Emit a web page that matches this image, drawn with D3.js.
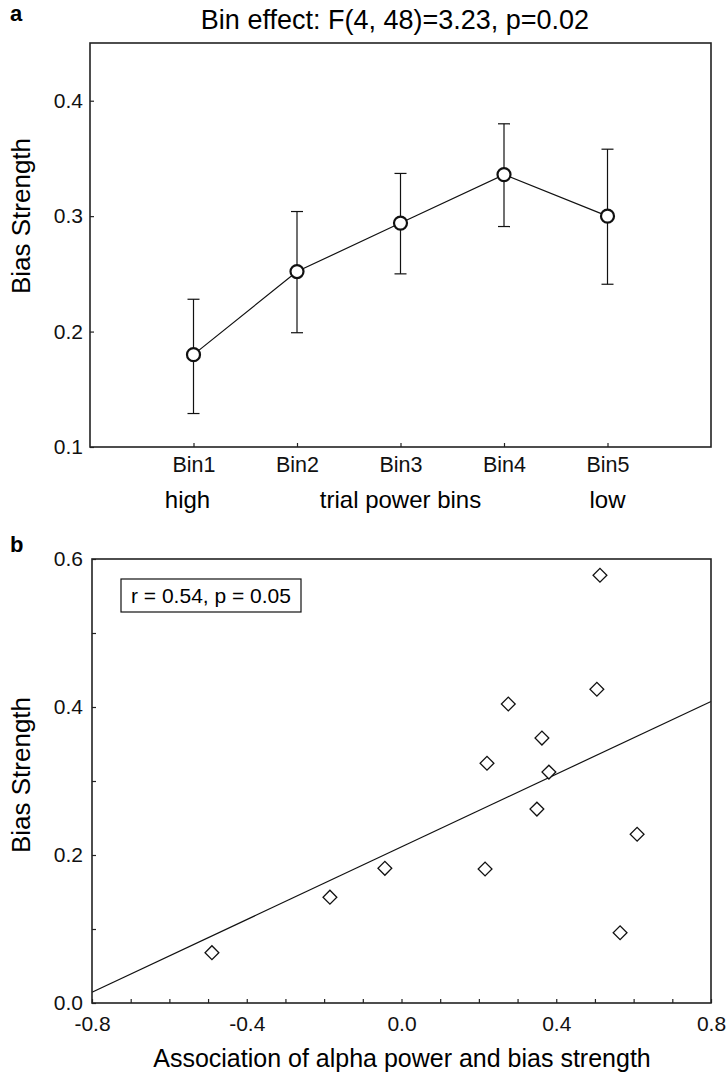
<!DOCTYPE html>
<html lang="en">
<head>
<meta charset="utf-8">
<title>Bias strength</title>
<script src="https://cdn.jsdelivr.net/npm/d3@7"></script>
<style>
	body { margin: 0; background: #fff; }
	svg { display: block; font-family: "Liberation Sans", Arial, Helvetica, sans-serif; }
	.tick line { stroke: #222; stroke-width: 1.2; }
	.tick text { fill: #111; }
</style>
</head>
<body>
<script>
	// panel a data
	var bins = ["Bin1", "Bin2", "Bin3", "Bin4", "Bin5"];
	var binMeans = [0.180, 0.252, 0.294, 0.336, 0.300];
	var binUpper = [0.228, 0.304, 0.337, 0.380, 0.358];
	var binLower = [0.129, 0.199, 0.250, 0.291, 0.241];
	var yTicksA = [0.1, 0.2, 0.3, 0.4];
	var powerLabels = ["high", "trial power bins", "low"];
	var powerLabelBins = [1, 3, 5];
	var titleA = "Bin effect: F(4, 48)=3.23, p=0.02";

	// panel b data
	var assoc = [-0.49, -0.185, -0.043, 0.216, 0.221, 0.276, 0.363, 0.381, 0.350, 0.609, 0.565, 0.505, 0.513];
	var bias = [0.068, 0.143, 0.182, 0.181, 0.324, 0.404, 0.358, 0.312, 0.262, 0.228, 0.095, 0.424, 0.578];
	var fitLine = { intercept: 0.211, slope: 0.2456 };
	var xTicksB = [-0.8, -0.7, -0.6, -0.5, -0.4, -0.3, -0.2, -0.1, 0, 0.1, 0.2, 0.3, 0.4, 0.5, 0.6, 0.7, 0.8];
	var xLabelsB = [-0.8, -0.4, 0, 0.4, 0.8];
	var yTicksB = [0, 0.1, 0.2, 0.3, 0.4, 0.5, 0.6];
	var yLabelsB = [0, 0.2, 0.4, 0.6];
	var statText = "r = 0.54, p = 0.05";

	var w = 726, h = 1073;

	var svg = d3.select("body").append("svg")
		.attr("width", w)
		.attr("height", h);

	// ---------- panel a ----------
	var a = { left: 90, right: 711, top: 43, bottom: 447 };

	var xA = d3.scaleLinear().domain([0, 6]).range([a.left, a.right]);
	var yA = d3.scaleLinear().domain([0.1, 0.45]).range([a.bottom, a.top]);

	svg.append("text")
		.attr("x", 10).attr("y", 21)
		.style("font-weight", "bold").style("font-size", "22px")
		.text("a");

	svg.append("text")
		.attr("x", 395).attr("y", 29)
		.attr("text-anchor", "middle")
		.style("font-size", "27px")
		.text(titleA);

	svg.append("g")
		.attr("transform", "translate(" + a.left + ",0)")
		.call(d3.axisLeft(yA).tickValues(yTicksA).tickFormat(d3.format(".1f")).tickSize(-4).tickPadding(7))
		.call(function(g) { g.select(".domain").remove(); })
		.selectAll("text").style("font-size", "21px");

	svg.append("g")
		.attr("transform", "translate(0," + a.bottom + ")")
		.call(d3.axisBottom(xA).tickValues([1, 2, 3, 4, 5]).tickFormat(function(d) { return bins[d - 1]; }).tickSize(-4).tickPadding(10))
		.call(function(g) { g.select(".domain").remove(); })
		.selectAll("text").style("font-size", "21.5px");

	svg.selectAll("text.power")
		.data(powerLabels)
		.enter().append("text")
		.attr("class", "power")
		.attr("x", function(d, i) { return xA(powerLabelBins[i]) - (i === 0 ? 6 : 0); })
		.attr("y", 508)
		.attr("text-anchor", "middle")
		.style("font-size", "24px")
		.text(function(d) { return d; });

	svg.append("text")
		.attr("transform", "translate(30," + 216 + ") rotate(-90)")
		.attr("text-anchor", "middle")
		.style("font-size", "26px")
		.text("Bias Strength");

	// error bars
	var errA = svg.append("g");
	bins.forEach(function(b, i) {
		var cx = xA(i + 1);
		errA.append("line")
			.attr("x1", cx).attr("x2", cx)
			.attr("y1", yA(binLower[i])).attr("y2", yA(binUpper[i]))
			.attr("stroke", "#111").attr("stroke-width", 1.2);
		[binLower[i], binUpper[i]].forEach(function(v) {
			errA.append("line")
				.attr("x1", cx - 6).attr("x2", cx + 6)
				.attr("y1", yA(v)).attr("y2", yA(v))
				.attr("stroke", "#111").attr("stroke-width", 1.2);
		});
	});

	var lineA = d3.line()
		.x(function(d, i) { return xA(i + 1); })
		.y(function(d) { return yA(d); });

	svg.append("path")
		.datum(binMeans)
		.attr("d", lineA)
		.attr("fill", "none")
		.attr("stroke", "#111")
		.attr("stroke-width", 1.2);

	svg.selectAll("circle.mean")
		.data(binMeans)
		.enter().append("circle")
		.attr("class", "mean")
		.attr("cx", function(d, i) { return xA(i + 1); })
		.attr("cy", function(d) { return yA(d); })
		.attr("r", 6.5)
		.attr("fill", "#fff")
		.attr("stroke", "#111")
		.attr("stroke-width", 2.2);

	svg.append("rect")
		.attr("x", a.left).attr("y", a.top)
		.attr("width", a.right - a.left).attr("height", a.bottom - a.top)
		.attr("fill", "none").attr("stroke", "#222").attr("stroke-width", 1.6);

	// ---------- panel b ----------
	var b = { left: 92, right: 711, top: 559, bottom: 1003 };

	var xB = d3.scaleLinear().domain([-0.8, 0.8]).range([b.left, b.right]);
	var yB = d3.scaleLinear().domain([0, 0.6]).range([b.bottom, b.top]);

	svg.append("text")
		.attr("x", 10).attr("y", 552)
		.style("font-weight", "bold").style("font-size", "22px")
		.text("b");

	function isLabel(list, d) {
		return list.some(function(v) { return Math.abs(v - d) < 1e-9; });
	}

	svg.append("g")
		.attr("transform", "translate(" + b.left + ",0)")
		.call(d3.axisLeft(yB).tickValues(yTicksB)
			.tickFormat(function(d) { return isLabel(yLabelsB, d) ? d3.format(".1f")(d) : ""; })
			.tickSize(-4).tickPadding(9))
		.call(function(g) { g.select(".domain").remove(); })
		.selectAll("text").style("font-size", "21px");

	svg.append("g")
		.attr("transform", "translate(0," + b.bottom + ")")
		.call(d3.axisBottom(xB).tickValues(xTicksB)
			.tickFormat(function(d) { return isLabel(xLabelsB, d) ? d3.format(".1f")(d).replace("−", "-") : ""; })
			.tickSize(-4).tickPadding(13))
		.call(function(g) { g.select(".domain").remove(); })
		.selectAll("text").style("font-size", "21px");

	svg.append("text")
		.attr("transform", "translate(30," + 775 + ") rotate(-90)")
		.attr("text-anchor", "middle")
		.style("font-size", "26px")
		.text("Bias Strength");

	svg.append("text")
		.attr("x", 402).attr("y", 1067)
		.attr("text-anchor", "middle")
		.style("font-size", "25px")
		.text("Association of alpha power and bias strength");

	// regression line
	svg.append("line")
		.attr("x1", xB(-0.8)).attr("y1", yB(fitLine.intercept + fitLine.slope * -0.8))
		.attr("x2", xB(0.8)).attr("y2", yB(fitLine.intercept + fitLine.slope * 0.8))
		.attr("stroke", "#111").attr("stroke-width", 1.2);

	var diamond = d3.symbol().type(d3.symbolSquare).size(95);

	svg.selectAll("path.pt")
		.data(assoc)
		.enter().append("path")
		.attr("class", "pt")
		.attr("d", diamond)
		.attr("transform", function(d, i) { return "translate(" + xB(d) + "," + yB(bias[i]) + ") rotate(45)"; })
		.attr("fill", "#fff")
		.attr("stroke", "#111")
		.attr("stroke-width", 1.3);

	// stat box
	var statG = svg.append("g");
	statG.append("rect")
		.attr("x", 121).attr("y", 579)
		.attr("width", 180).attr("height", 33)
		.attr("fill", "#fff").attr("stroke", "#111").attr("stroke-width", 1.2);
	statG.append("text")
		.attr("x", 211).attr("y", 603)
		.attr("text-anchor", "middle")
		.style("font-size", "21px")
		.text(statText);

	svg.append("rect")
		.attr("x", b.left).attr("y", b.top)
		.attr("width", b.right - b.left).attr("height", b.bottom - b.top)
		.attr("fill", "none").attr("stroke", "#222").attr("stroke-width", 1.6);
</script>
</body>
</html>
